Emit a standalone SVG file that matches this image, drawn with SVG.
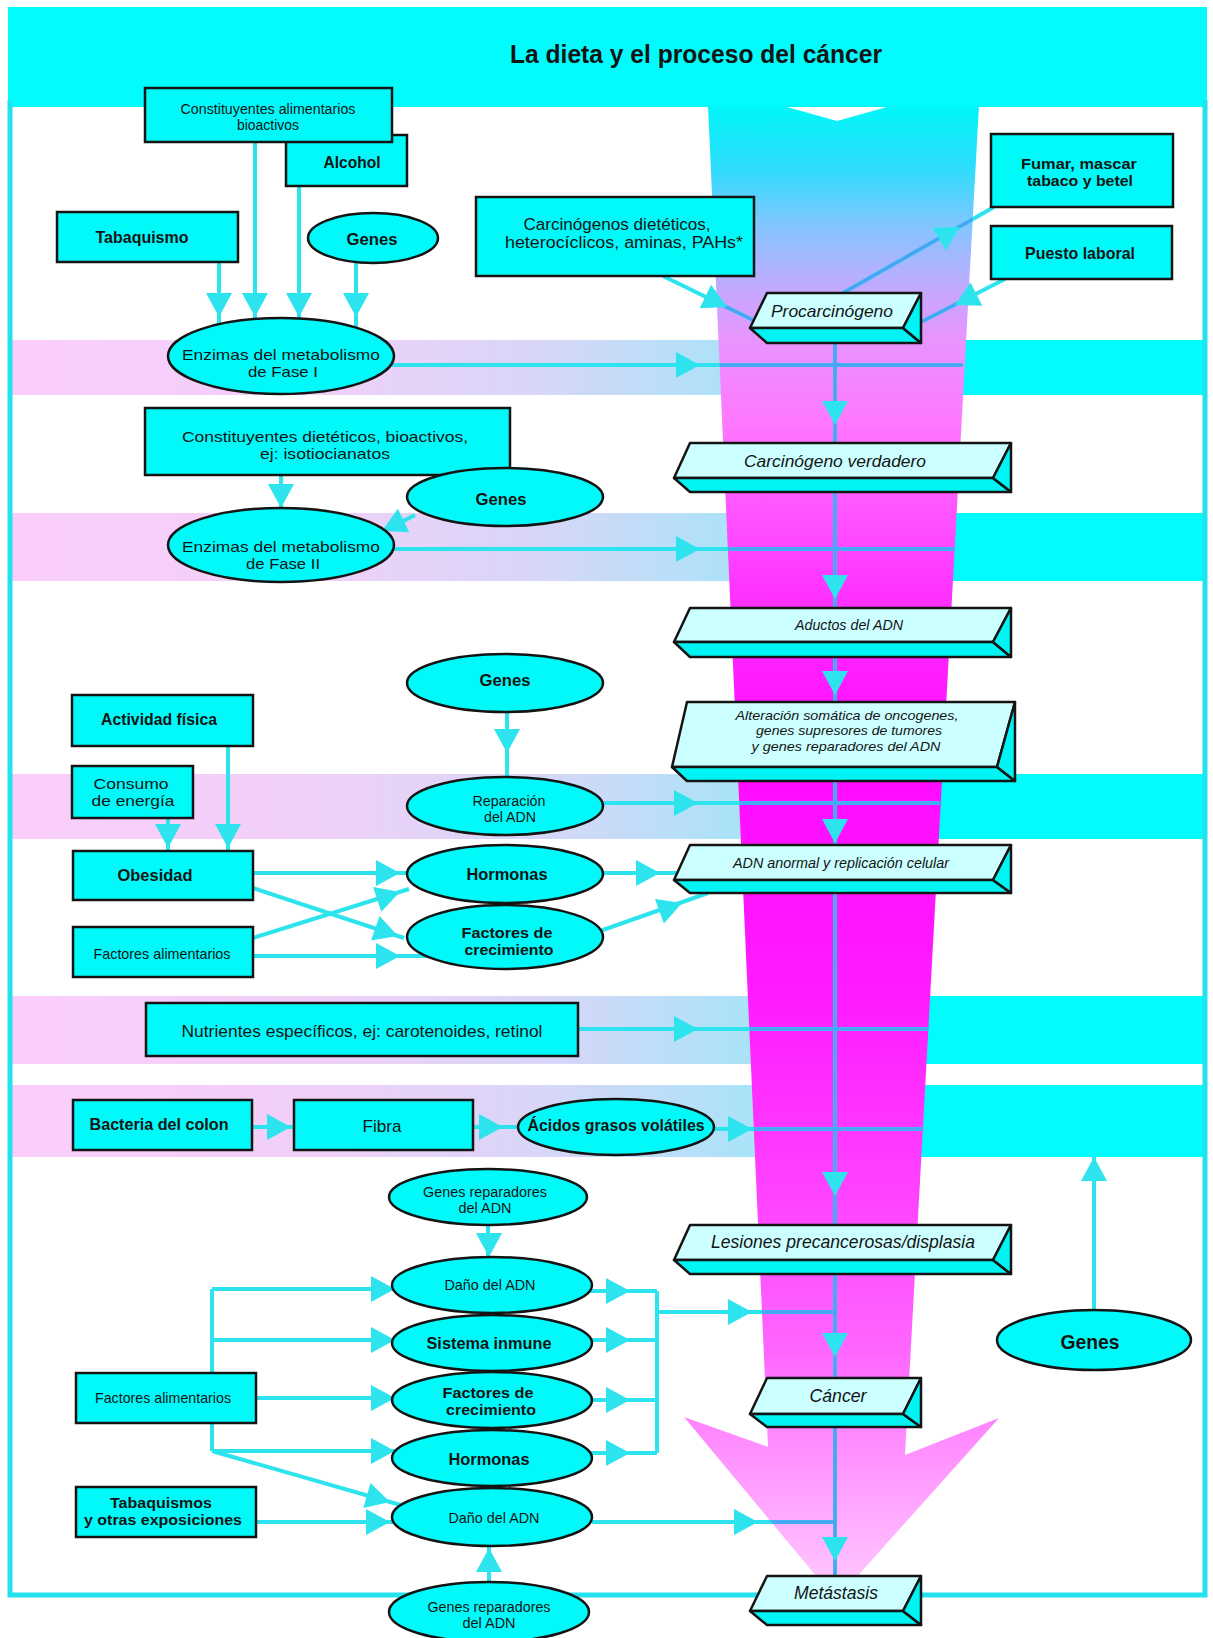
<svg xmlns="http://www.w3.org/2000/svg" xmlns:xlink="http://www.w3.org/1999/xlink" width="1213" height="1638" viewBox="0 0 1213 1638">
<defs>
<style>
.n rect, .n ellipse { fill:#00fafa; stroke:#141414; stroke-width:2.5; }
.sf { fill:#ccffff; stroke:#141414; stroke-width:2.5; stroke-linejoin:round; }
.ss { fill:#00f4f4; stroke:#141414; stroke-width:2.5; stroke-linejoin:round; }
text { font-family:"Liberation Sans", Arial, Helvetica, sans-serif; fill:#141414; text-anchor:middle; dominant-baseline:central; }
.b { font-weight:bold; }
.i { font-style:italic; }
.t14 { font-size:14px; }
.t15 { font-size:15px; }
.t16 { font-size:16px; }
.t17 { font-size:17px; }
.t18 { font-size:18px; }
.bl { fill:url(#gB); }
.br { fill:#00fcfc; }
</style>
<linearGradient id="gF" gradientUnits="userSpaceOnUse" x1="0" y1="107" x2="0" y2="1600">
<stop offset="0" stop-color="#00f6f8"/>
<stop offset="0.042" stop-color="#30dcfc"/>
<stop offset="0.082" stop-color="#88c4ff"/>
<stop offset="0.123" stop-color="#c4a8ff"/>
<stop offset="0.156" stop-color="#e894ff"/>
<stop offset="0.21" stop-color="#ff78ff"/>
<stop offset="0.33" stop-color="#ff30ff"/>
<stop offset="0.43" stop-color="#ff0aff"/>
<stop offset="0.6" stop-color="#ff1cff"/>
<stop offset="0.732" stop-color="#ff44ff"/>
<stop offset="0.833" stop-color="#ff66ff"/>
<stop offset="0.893" stop-color="#ff8cff"/>
<stop offset="1" stop-color="#ffccff"/>
</linearGradient>
<linearGradient id="gB" x1="0" y1="0" x2="1" y2="0">
<stop offset="0" stop-color="#fbcdfb"/>
<stop offset="0.4" stop-color="#f0d0f8"/>
<stop offset="0.7" stop-color="#d8d6f8"/>
<stop offset="0.95" stop-color="#ade2f8"/>
<stop offset="1" stop-color="#a6e6f8"/>
</linearGradient>
<path id="ah" d="M0,0 L-24,-13 L-24,13 Z"/>
<clipPath id="fc"><path d="M708,100 L979,100 L905,1455 L999,1418 L836,1600 L684,1417 L768,1447 Z"/></clipPath>
</defs>

<rect x="0" y="0" width="1213" height="1638" fill="#ffffff"/>

<g id="background">
<rect x="8" y="7" width="1199" height="100" fill="#00fcfc"/>
<rect class="bl" x="12" y="340" width="750" height="55"/>
<rect class="br" x="900" y="340" width="303" height="55"/>
<rect class="bl" x="12" y="513" width="750" height="68"/>
<rect class="br" x="900" y="513" width="303" height="68"/>
<rect class="bl" x="12" y="774" width="750" height="65"/>
<rect class="br" x="900" y="774" width="303" height="65"/>
<rect class="bl" x="12" y="996" width="760" height="68"/>
<rect class="br" x="900" y="996" width="303" height="68"/>
<rect class="bl" x="12" y="1085" width="760" height="72"/>
<rect class="br" x="900" y="1085" width="303" height="72"/>
<path d="M10,100 V1595 H1205 V100" fill="none" stroke="#22e2ee" stroke-width="5"/>
<path d="M708,105 L979,105 L905,1455 L999,1418 L836,1600 L684,1417 L768,1447 Z" fill="url(#gF)"/>
<path d="M787,107 L887,107 L837,121 Z" fill="#ffffff"/>
<text x="696" y="54" class="b" style="font-size:25px" textLength="372" lengthAdjust="spacingAndGlyphs">La dieta y el proceso del cáncer</text>
</g>

<g id="connectors">
<g stroke="#2de4ee" fill="none" stroke-width="4">
<g id="lines">
<path d="M219,262 V324 M255,142 V319 M299,186 V319 M356,263 V327"/>
<path d="M391,365 H963"/>
<path d="M663,276 L753,320"/>
<path d="M843,293 L994,207"/>
<path d="M1005,279 L921,322"/>
<path d="M835,343 V443"/>
<path d="M281,475 V508"/>
<path d="M415,515 L380,533"/>
<path d="M391,549 H954"/>
<path d="M835,492 V608"/>
<path d="M835,657 V702"/>
<path d="M507,712 V777"/>
<path d="M600,803 H940"/>
<path d="M835,781 V845"/>
<path d="M228,746 V851 M168,818 V851"/>
<path d="M253,873 H407"/>
<path d="M253,888 L404,938"/>
<path d="M253,938 L409,889"/>
<path d="M253,956 H428"/>
<path d="M603,873 H677"/>
<path d="M600,931 L708,893"/>
<path d="M835,893 V1225"/>
<path d="M578,1029 H928"/>
<path d="M252,1127 H294"/>
<path d="M473,1127 H518"/>
<path d="M714,1129 H922"/>
<path d="M1094,1310 V1157"/>
<path d="M488,1225 V1257"/>
<path d="M590,1291 H657 M590,1340 H657 M590,1400 H657 M590,1453 H657 M657,1291 V1453"/>
<path d="M657,1312 H835"/>
<path d="M592,1522 H835"/>
<path d="M489,1582 V1546"/>
<path d="M835,1274 V1378"/>
<path d="M835,1427 V1576"/>
<path d="M212,1289 V1451 M212,1289 H395 M212,1340 H395 M256,1398 H395 M212,1451 H395"/>
<path d="M212,1451 L404,1506"/>
<path d="M256,1522 H393"/>
</g>
</g>
<use xlink:href="#lines" href="#lines" stroke="#4aa4f6" fill="none" stroke-width="3.5" clip-path="url(#fc)"/>
<g fill="#2de4ee">
<use href="#ah" transform="translate(219,317) rotate(90)"/>
<use href="#ah" transform="translate(255,317) rotate(90)"/>
<use href="#ah" transform="translate(299,317) rotate(90)"/>
<use href="#ah" transform="translate(356,317) rotate(90)"/>
<use href="#ah" transform="translate(700,365)"/>
<use href="#ah" transform="translate(727,307) rotate(26)"/>
<use href="#ah" transform="translate(960,227) rotate(-30)"/>
<use href="#ah" transform="translate(955,305) rotate(153)"/>
<use href="#ah" transform="translate(835,425) rotate(90)"/>
<use href="#ah" transform="translate(281,508) rotate(90)"/>
<use href="#ah" transform="translate(382,531) rotate(154)"/>
<use href="#ah" transform="translate(700,549)"/>
<use href="#ah" transform="translate(835,599) rotate(90)"/>
<use href="#ah" transform="translate(835,695) rotate(90)"/>
<use href="#ah" transform="translate(507,753) rotate(90)"/>
<use href="#ah" transform="translate(698,803)"/>
<use href="#ah" transform="translate(835,843) rotate(90)"/>
<use href="#ah" transform="translate(228,848) rotate(90)"/>
<use href="#ah" transform="translate(168,848) rotate(90)"/>
<use href="#ah" transform="translate(400,873)"/>
<use href="#ah" transform="translate(398,936) rotate(19)"/>
<use href="#ah" transform="translate(400,892) rotate(-18)"/>
<use href="#ah" transform="translate(400,956)"/>
<use href="#ah" transform="translate(660,873)"/>
<use href="#ah" transform="translate(682,903) rotate(-20)"/>
<use href="#ah" transform="translate(835,1196) rotate(90)"/>
<use href="#ah" transform="translate(698,1029)"/>
<use href="#ah" transform="translate(291,1127)"/>
<use href="#ah" transform="translate(503,1127)"/>
<use href="#ah" transform="translate(752,1129)"/>
<use href="#ah" transform="translate(1094,1157) rotate(-90)"/>
<use href="#ah" transform="translate(489,1257) rotate(90)"/>
<use href="#ah" transform="translate(630,1291)"/>
<use href="#ah" transform="translate(630,1340)"/>
<use href="#ah" transform="translate(630,1400)"/>
<use href="#ah" transform="translate(630,1453)"/>
<use href="#ah" transform="translate(752,1312)"/>
<use href="#ah" transform="translate(758,1522)"/>
<use href="#ah" transform="translate(489,1548) rotate(-90)"/>
<use href="#ah" transform="translate(835,1357) rotate(90)"/>
<use href="#ah" transform="translate(835,1561) rotate(90)"/>
<use href="#ah" transform="translate(395,1289)"/>
<use href="#ah" transform="translate(395,1340)"/>
<use href="#ah" transform="translate(395,1398)"/>
<use href="#ah" transform="translate(395,1451)"/>
<use href="#ah" transform="translate(390,1502) rotate(16)"/>
<use href="#ah" transform="translate(390,1522)"/>
</g>
</g>

<g id="n-alcohol" class="n"><rect x="286" y="135" width="121" height="51"/><text x="352" y="162" class="t17 b" textLength="57" lengthAdjust="spacingAndGlyphs">Alcohol</text></g>
<g id="n-constituyentes-alimentarios" class="n"><rect x="145" y="88" width="247" height="54"/><text x="268" y="109" class="t14" textLength="175" lengthAdjust="spacingAndGlyphs">Constituyentes alimentarios</text><text x="268" y="125" class="t14" textLength="62" lengthAdjust="spacingAndGlyphs">bioactivos</text></g>
<g id="n-tabaquismo" class="n"><rect x="57" y="212" width="181" height="50"/><text x="142" y="237" class="t17 b" textLength="93" lengthAdjust="spacingAndGlyphs">Tabaquismo</text></g>
<g id="n-genes1" class="n"><ellipse cx="373" cy="238" rx="65" ry="25"/><text x="372" y="239" class="t17 b" textLength="51" lengthAdjust="spacingAndGlyphs">Genes</text></g>
<g id="n-fase1" class="n"><ellipse cx="281" cy="356" rx="113" ry="38"/><text x="281" y="354" class="t15" textLength="198" lengthAdjust="spacingAndGlyphs">Enzimas del metabolismo</text><text x="283" y="371" class="t15" textLength="70" lengthAdjust="spacingAndGlyphs">de Fase I</text></g>
<g id="n-carcinogenos" class="n"><rect x="476" y="197" width="278" height="79"/><text x="617" y="224" class="t16" textLength="187" lengthAdjust="spacingAndGlyphs">Carcinógenos dietéticos,</text><text x="624" y="242" class="t16" textLength="238" lengthAdjust="spacingAndGlyphs">heterocíclicos, aminas, PAHs*</text></g>
<g id="n-fumar" class="n"><rect x="991" y="134" width="182" height="73"/><text x="1079" y="163" class="t15 b" textLength="116" lengthAdjust="spacingAndGlyphs">Fumar, mascar</text><text x="1080" y="180" class="t15 b" textLength="106" lengthAdjust="spacingAndGlyphs">tabaco y betel</text></g>
<g id="n-puesto" class="n"><rect x="991" y="226" width="181" height="53"/><text x="1080" y="253" class="t17 b" textLength="110" lengthAdjust="spacingAndGlyphs">Puesto laboral</text></g>
<g id="n-procarcinogeno"><path class="sf" d="M767,293 L921,293 L903,328 L750,328 Z"/><path class="ss" d="M750,328 L903,328 L921,343 L767,343 Z"/><path class="ss" d="M921,293 L921,343 L903,328 Z"/><text x="832" y="311" class="t17 i" textLength="122" lengthAdjust="spacingAndGlyphs">Procarcinógeno</text></g>
<g id="n-constituyentes-dieteticos" class="n"><rect x="145" y="408" width="365" height="67"/><text x="325" y="436" class="t15" textLength="286" lengthAdjust="spacingAndGlyphs">Constituyentes dietéticos, bioactivos,</text><text x="325" y="453" class="t15" textLength="130" lengthAdjust="spacingAndGlyphs">ej: isotiocianatos</text></g>
<g id="n-genes2" class="n"><ellipse cx="505" cy="497" rx="98" ry="29"/><text x="501" y="499" class="t17 b" textLength="51" lengthAdjust="spacingAndGlyphs">Genes</text></g>
<g id="n-fase2" class="n"><ellipse cx="281" cy="545" rx="113" ry="37"/><text x="281" y="546" class="t15" textLength="198" lengthAdjust="spacingAndGlyphs">Enzimas del metabolismo</text><text x="283" y="563" class="t15" textLength="74" lengthAdjust="spacingAndGlyphs">de Fase II</text></g>
<g id="n-carcinogeno-verdadero"><path class="sf" d="M690,443 L1011,443 L993,478 L674,478 Z"/><path class="ss" d="M674,478 L993,478 L1011,492 L690,492 Z"/><path class="ss" d="M1011,443 L1011,492 L993,478 Z"/><text x="835" y="461" class="t17 i" textLength="182" lengthAdjust="spacingAndGlyphs">Carcinógeno verdadero</text></g>
<g id="n-aductos"><path class="sf" d="M690,608 L1011,608 L993,642 L674,642 Z"/><path class="ss" d="M674,642 L993,642 L1011,657 L690,657 Z"/><path class="ss" d="M1011,608 L1011,657 L993,642 Z"/><text x="849" y="625" class="t14 i" textLength="108" lengthAdjust="spacingAndGlyphs">Aductos del ADN</text></g>
<g id="n-genes3" class="n"><ellipse cx="505" cy="683" rx="98" ry="29"/><text x="505" y="680" class="t17 b" textLength="51" lengthAdjust="spacingAndGlyphs">Genes</text></g>
<g id="n-alteracion"><path class="sf" d="M687,702 L1015,702 L997,767 L672,767 Z"/><path class="ss" d="M672,767 L997,767 L1015,781 L687,781 Z"/><path class="ss" d="M1015,702 L1015,781 L997,767 Z"/><text x="847" y="715" class="i" style="font-size:13.5px" textLength="223" lengthAdjust="spacingAndGlyphs">Alteración somática de oncogenes,</text><text x="849" y="730.5" class="i" style="font-size:13.5px" textLength="186" lengthAdjust="spacingAndGlyphs">genes supresores de tumores</text><text x="846" y="746" class="i" style="font-size:13.5px" textLength="189" lengthAdjust="spacingAndGlyphs">y genes reparadores del ADN</text></g>
<g id="n-actividad" class="n"><rect x="72" y="695" width="181" height="51"/><text x="159" y="719" class="t17 b" textLength="116" lengthAdjust="spacingAndGlyphs">Actividad física</text></g>
<g id="n-consumo" class="n"><rect x="72" y="766" width="121" height="52"/><text x="131" y="783" class="t15" textLength="75" lengthAdjust="spacingAndGlyphs">Consumo</text><text x="133" y="800" class="t15" textLength="83" lengthAdjust="spacingAndGlyphs">de energía</text></g>
<g id="n-reparacion" class="n"><ellipse cx="505" cy="806" rx="98" ry="29"/><text x="509" y="801" class="t14" textLength="73" lengthAdjust="spacingAndGlyphs">Reparación</text><text x="510" y="817" class="t14" textLength="52" lengthAdjust="spacingAndGlyphs">del ADN</text></g>
<g id="n-adn-anormal"><path class="sf" d="M690,845 L1011,845 L993,880 L674,880 Z"/><path class="ss" d="M674,880 L993,880 L1011,893 L690,893 Z"/><path class="ss" d="M1011,845 L1011,893 L993,880 Z"/><text x="841" y="862" class="t15 i" textLength="216" lengthAdjust="spacingAndGlyphs">ADN anormal y replicación celular</text></g>
<g id="n-obesidad" class="n"><rect x="73" y="851" width="180" height="49"/><text x="155" y="875" class="t17 b" textLength="75" lengthAdjust="spacingAndGlyphs">Obesidad</text></g>
<g id="n-hormonas1" class="n"><ellipse cx="505" cy="874" rx="98" ry="29"/><text x="507" y="874" class="t17 b" textLength="81" lengthAdjust="spacingAndGlyphs">Hormonas</text></g>
<g id="n-factores-alim1" class="n"><rect x="73" y="927" width="180" height="50"/><text x="162" y="953" class="t15" textLength="137" lengthAdjust="spacingAndGlyphs">Factores alimentarios</text></g>
<g id="n-factores-crec1" class="n"><ellipse cx="505" cy="937" rx="98" ry="32"/><text x="507" y="932" class="t15 b" textLength="91" lengthAdjust="spacingAndGlyphs">Factores de</text><text x="509" y="949" class="t15 b" textLength="89" lengthAdjust="spacingAndGlyphs">crecimiento</text></g>
<g id="n-nutrientes" class="n"><rect x="146" y="1003" width="432" height="53"/><text x="362" y="1031" class="t17" textLength="361" lengthAdjust="spacingAndGlyphs">Nutrientes específicos, ej: carotenoides, retinol</text></g>
<g id="n-bacteria" class="n"><rect x="73" y="1100" width="179" height="50"/><text x="159" y="1124" class="t17 b" textLength="139" lengthAdjust="spacingAndGlyphs">Bacteria del colon</text></g>
<g id="n-fibra" class="n"><rect x="294" y="1100" width="179" height="50"/><text x="382" y="1126" class="t17" textLength="39" lengthAdjust="spacingAndGlyphs">Fibra</text></g>
<g id="n-acidos" class="n"><ellipse cx="616" cy="1127" rx="98" ry="28"/><text x="616" y="1125" class="t17 b" textLength="177" lengthAdjust="spacingAndGlyphs">Ácidos grasos volátiles</text></g>
<g id="n-genes-rep1" class="n"><ellipse cx="488" cy="1197" rx="99" ry="28"/><text x="485" y="1192" class="t14" textLength="124" lengthAdjust="spacingAndGlyphs">Genes reparadores</text><text x="485" y="1208" class="t14" textLength="53" lengthAdjust="spacingAndGlyphs">del ADN</text></g>
<g id="n-lesiones"><path class="sf" d="M690,1225 L1011,1225 L993,1260 L674,1260 Z"/><path class="ss" d="M674,1260 L993,1260 L1011,1274 L690,1274 Z"/><path class="ss" d="M1011,1225 L1011,1274 L993,1260 Z"/><text x="843" y="1242" class="t18 i" textLength="264" lengthAdjust="spacingAndGlyphs">Lesiones precancerosas/displasia</text></g>
<g id="n-dano1" class="n"><ellipse cx="492" cy="1285" rx="100" ry="28"/><text x="490" y="1284" class="t15" textLength="91" lengthAdjust="spacingAndGlyphs">Daño del ADN</text></g>
<g id="n-sistema" class="n"><ellipse cx="492" cy="1343" rx="100" ry="28"/><text x="489" y="1343" class="t17 b" textLength="125" lengthAdjust="spacingAndGlyphs">Sistema inmune</text></g>
<g id="n-factores-crec2" class="n"><ellipse cx="492" cy="1400" rx="100" ry="28"/><text x="488" y="1392" class="t15 b" textLength="91" lengthAdjust="spacingAndGlyphs">Factores de</text><text x="491" y="1409" class="t15 b" textLength="90" lengthAdjust="spacingAndGlyphs">crecimiento</text></g>
<g id="n-hormonas2" class="n"><ellipse cx="492" cy="1458" rx="100" ry="28"/><text x="489" y="1459" class="t17 b" textLength="81" lengthAdjust="spacingAndGlyphs">Hormonas</text></g>
<g id="n-dano2" class="n"><ellipse cx="492" cy="1517" rx="100" ry="29"/><text x="494" y="1517" class="t15" textLength="91" lengthAdjust="spacingAndGlyphs">Daño del ADN</text></g>
<g id="n-genes-rep2" class="n"><ellipse cx="489" cy="1612" rx="100" ry="30"/><text x="489" y="1607" class="t14" textLength="123" lengthAdjust="spacingAndGlyphs">Genes reparadores</text><text x="489" y="1623" class="t14" textLength="53" lengthAdjust="spacingAndGlyphs">del ADN</text></g>
<g id="n-factores-alim2" class="n"><rect x="76" y="1373" width="180" height="50"/><text x="163" y="1397" class="t15" textLength="136" lengthAdjust="spacingAndGlyphs">Factores alimentarios</text></g>
<g id="n-tabaquismos" class="n"><rect x="76" y="1487" width="180" height="50"/><text x="161" y="1502" class="t15 b" textLength="102" lengthAdjust="spacingAndGlyphs">Tabaquismos</text><text x="163" y="1519" class="t15 b" textLength="158" lengthAdjust="spacingAndGlyphs">y otras exposiciones</text></g>
<g id="n-cancer"><path class="sf" d="M767,1378 L921,1378 L903,1414 L750,1414 Z"/><path class="ss" d="M750,1414 L903,1414 L921,1427 L767,1427 Z"/><path class="ss" d="M921,1378 L921,1427 L903,1414 Z"/><text x="838" y="1396" class="t18 i" textLength="57" lengthAdjust="spacingAndGlyphs">Cáncer</text></g>
<g id="n-metastasis"><path class="sf" d="M767,1576 L921,1576 L903,1611 L750,1611 Z"/><path class="ss" d="M750,1611 L903,1611 L921,1625 L767,1625 Z"/><path class="ss" d="M921,1576 L921,1625 L903,1611 Z"/><text x="836" y="1593" class="t18 i" textLength="84" lengthAdjust="spacingAndGlyphs">Metástasis</text></g>
<g id="n-genes-right" class="n"><ellipse cx="1094" cy="1340" rx="97" ry="30"/><text x="1090" y="1341" class="b" style="font-size:21px" textLength="59" lengthAdjust="spacingAndGlyphs">Genes</text></g>
</svg>
